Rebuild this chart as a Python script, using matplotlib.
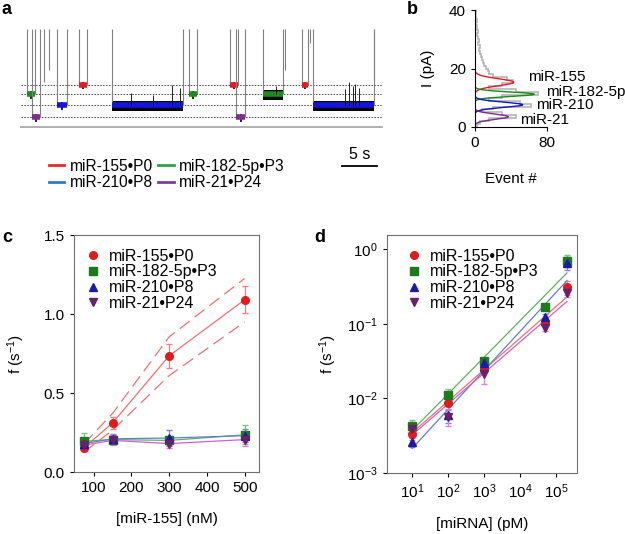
import numpy as np
import matplotlib
matplotlib.use('Agg')
import matplotlib.pyplot as plt
from matplotlib.lines import Line2D

plt.rcParams['font.family'] = ['Liberation Sans', 'DejaVu Sans']
plt.rcParams['mathtext.default'] = 'regular'
plt.rcParams['font.size'] = 11

W, H = 625, 534

# ---- data ----
names = ['miR-155•P0', 'miR-182-5p•P3', 'miR-210•P8', 'miR-21•P24']
short_names = ['miR-155', 'miR-182-5p', 'miR-210', 'miR-21']

# panel a: blockade levels (pA) and events (s)
levels = [14.5, 11.2, 7.4, 3.4]
ev_start = [0.9, 1.6, 5.3, 8.5, 13.4, 24.7, 30.7, 31.6, 35.6, 41.3, 42.9]
ev_end = [2.1, 2.8, 6.8, 9.7, 23.8, 25.9, 31.8, 32.9, 38.5, 42.2, 51.8]
ev_type = [1, 3, 2, 0, 2, 1, 0, 3, 1, 0, 2]
# short spikes not reaching a level
spike_t = [3.4, 4.1, 38.8, 42.5, 51.8]
spike_bottom = [15.5, 19.5, 19.5, 28.7, 16.0]
# upward noise spikes during long events
noise_t = [16.1, 19.4, 22.2, 23.3, 47.6, 48.2, 48.7, 49.0, 49.6, 37.5]
noise_top = [11.5, 11.0, 14.4, 13.3, 13.0, 15.4, 14.0, 14.8, 13.5, 14.0]

# panel b: histogram of blockade currents (1 pA bins)
hist_edges = np.arange(0, 41, 1)
hist_counts = [2, 5, 15, 45, 30, 8, 20, 62, 50, 15, 30, 70, 45, 15, 30, 42, 35, 20,
               15, 14, 12, 10, 9, 8, 7, 5, 4, 5, 3, 4, 3, 2, 3, 2, 2, 1, 2, 1, 1, 1]
# gaussian fit parameters: amplitude, centre, width
g_amp = [43, 66, 53, 37]
g_mu = [15.3, 11.2, 7.6, 3.5]
g_sig = [1.2, 0.75, 0.9, 0.9]

# panel c: frequency vs [miR-155]
conc_c = [75, 150, 300, 500]
f_c = [[0.155, 0.31, 0.735, 1.09],
       [0.195, 0.205, 0.20, 0.235],
       [0.18, 0.21, 0.215, 0.23],
       [0.17, 0.20, 0.18, 0.205]]
err_c = [[0.02, 0.035, 0.075, 0.085],
         [0.055, 0.03, 0.03, 0.06],
         [0.03, 0.03, 0.05, 0.04],
         [0.02, 0.03, 0.03, 0.04]]
band_upper = [0.18, 0.37, 0.855, 1.225]
band_lower = [0.127, 0.264, 0.61, 0.95]

# panel d: frequency vs [miRNA]
conc_d = [10, 100, 1000, 5e4, 2e5]
f_d = [[3.3e-3, 8.7e-3, 0.025, 0.104, 0.31],
       [4.3e-3, 0.011, 0.032, 0.17, 0.70],
       [2.6e-3, 5.9e-3, 0.030, 0.123, 0.66],
       [3.9e-3, 5.7e-3, 0.021, 0.088, 0.26]]
rel_err_d = [[0.15, 0.1, 0.1, 0.1, 0.22],
             [0.2, 0.2, 0.1, 0.1, 0.18],
             [0.15, 0.2, 0.1, 0.1, 0.2],
             [0.12, 0.25, 0.25, 0.1, 0.12]]
# log-log fit: log10 f = a + b*(log10 c - 1)
fit_a = [-2.46, -2.43, -2.67, -2.49]
fit_b = [0.423, 0.491, 0.523, 0.416]

# ---- styles ----
bar_col = ['#e31b23', '#1d8a1d', '#1515e0', '#7b2f8f']
leg_col = ['#e8282a', '#2ca24a', '#2b7bd6', '#7e3b9a']
mk_col = ['#e31a1c', '#1b7a1b', '#1a1aa8', '#6b1f6b']
ln_col = ['#f07070', '#60b060', '#6080d0', '#d060d0']
eb_col = ['#f08080', '#80c080', '#8080e0', '#e080e0']
markers = ['o', 's', '^', 'v']
g_col = ['#e31b23', '#178a17', '#1010d0', '#7a2a8a']

fig = plt.figure(figsize=(W / 100, H / 100), dpi=100)


def px_axes(l, t, r, b):
    return fig.add_axes([l / W, 1 - b / H, (r - l) / W, (b - t) / H])


# ---- panel a ----
ax = px_axes(21, 29, 382, 127)
top = 33.5
ax.set_xlim(0, 53)
ax.set_ylim(0, top)
ax.axis('off')
ax.hlines(levels, 0, 53, colors='#444444', linestyles=(0, (1.5, 1.5)), lw=0.7)
ax.axhline(0, color='#aaaaaa', lw=1.3, clip_on=False)
for s, e, k in zip(ev_start, ev_end, ev_type):
    lv = levels[k]
    ax.vlines([s, e], lv, top, colors='#808080', lw=0.8)
    if e - s > 2:
        ax.fill_between([s, e], lv - 1.8, lv + 1.4, color='black', lw=0)
    else:
        ax.vlines((s + e) / 2, lv - 1.6, lv + 1.0, colors='black', lw=1.2)
    ax.hlines(lv, s, e, colors=bar_col[k], lw=4)
ax.vlines(spike_t, spike_bottom, top, colors='#808080', lw=0.8)
ax.vlines(noise_t, [levels[2] if t < 35 or t > 40 else levels[1] for t in noise_t],
          noise_top, colors='black', lw=0.6)
# scale bar
ax.plot([47.2, 52.2], [-13.3, -13.3], color='black', lw=1.3, clip_on=False)
ax.text(49.7, -9.3, '5 s', ha='center', va='center', fontsize=11.5)

handles = [Line2D([], [], color=c, lw=2) for c in leg_col]
fig.legend([handles[0], handles[2], handles[1], handles[3]],
           [names[0], names[2], names[1], names[3]],
           ncol=2, loc='upper left', bbox_to_anchor=(41 / W, 1 - 151 / H),
           frameon=False, handlelength=1.0, handletextpad=0.35, columnspacing=0.35,
           labelspacing=0.1, fontsize=11.2, borderpad=0)

# ---- panel b ----
axb = px_axes(475, 10, 547, 127)
axb.stairs(hist_counts, hist_edges, orientation='horizontal', color='#b5b5b5', lw=1.2)
yy = np.linspace(0, 40, 400)
for A, mu, sg, c in zip(g_amp, g_mu, g_sig, g_col):
    axb.plot(A * np.exp(-(yy - mu) ** 2 / (2 * sg ** 2)), yy, color=c, lw=1)
axb.set_xlim(0, 80)
axb.set_ylim(0, 40)
axb.set_xticks([0, 80])
axb.set_yticks([0, 20, 40])
for sp in ['top', 'right']:
    axb.spines[sp].set_visible(False)
axb.tick_params(direction='out', length=3, labelsize=11)
axb.set_xlabel('Event #', fontsize=11, labelpad=16)
axb.set_ylabel('I (pA)', fontsize=11, labelpad=10)
lab_x = [58.6, 78.9, 67.6, 49.6]
lab_y = [17.1, 12.0, 7.5, 2.4]
for t, x, y in zip(short_names, lab_x, lab_y):
    axb.text(x, y, t, fontsize=11, va='center', ha='left', clip_on=False)

# ---- panel c ----
axc = px_axes(74, 235, 259, 472)
axc.plot(conc_c, band_upper, color=ln_col[0], lw=0.9, dashes=(10, 5))
axc.plot(conc_c, band_lower, color=ln_col[0], lw=0.9, dashes=(10, 5))
for i in range(4):
    axc.plot(conc_c, f_c[i], color=ln_col[i], lw=0.9)
    axc.errorbar(conc_c, f_c[i], yerr=err_c[i], fmt='none', ecolor=eb_col[i],
                 elinewidth=0.9, capsize=2.5)
for i in range(4):
    axc.plot(conc_c, f_c[i], ls='none', marker=markers[i], color=mk_col[i],
             ms=5.5, label=names[i])
axc.set_xlim(48, 538)
axc.set_ylim(0, 1.5)
axc.set_xticks([100, 200, 300, 400, 500])
axc.set_yticks([0, 0.5, 1.0, 1.5])
axc.set_xlabel('[miR-155] (nM)', labelpad=12)
axc.set_ylabel('f (s$^{-1}$)', labelpad=12)
axc.legend(loc='upper left', bbox_to_anchor=(0.0, 0.99), frameon=False,
           handlelength=1.0, handletextpad=0.5, labelspacing=0.05, borderpad=0.2,
           fontsize=11.5)

# ---- panel d ----
axd = px_axes(387, 235, 577, 473)
xf = np.array([10, 2e5])
for i in range(4):
    yf = 10 ** (fit_a[i] + fit_b[i] * (np.log10(xf) - 1))
    axd.plot(xf, yf, color=ln_col[i], lw=0.9)
    yerr = np.array(f_d[i]) * np.array(rel_err_d[i])
    axd.errorbar(conc_d, f_d[i], yerr=yerr, fmt='none', ecolor=eb_col[i],
                 elinewidth=0.9, capsize=2.5)
for i in range(4):
    axd.plot(conc_d, f_d[i], ls='none', marker=markers[i], color=mk_col[i],
             ms=5.5, label=names[i])
axd.set_xscale('log')
axd.set_yscale('log')
axd.set_xlim(2, 3.8e5)
axd.set_ylim(1e-3, 1.55)
axd.set_xticks([1e1, 1e2, 1e3, 1e4, 1e5])
axd.set_yticks([1e-3, 1e-2, 1e-1, 1e0])
axd.minorticks_off()
axd.set_xlabel('[miRNA] (pM)', labelpad=12)
axd.set_ylabel('f (s$^{-1}$)', labelpad=6)
axd.legend(loc='upper left', bbox_to_anchor=(0.04, 0.99), frameon=False,
           handlelength=1.0, handletextpad=0.5, labelspacing=0.05, borderpad=0.2,
           fontsize=11.5)

for a in (axc, axd):
    for sp in a.spines.values():
        sp.set_color('#707070')
    a.tick_params(direction='out', length=3, labelsize=11, top=False, right=False)

# panel letters
for t, x, y in [('a', 7, 10), ('b', 412, 9), ('c', 7, 237), ('d', 320, 237)]:
    fig.text(x / W, 1 - y / H, t, fontsize=13, fontweight='bold', ha='center', va='center')

fig.savefig('out.png', dpi=100)
